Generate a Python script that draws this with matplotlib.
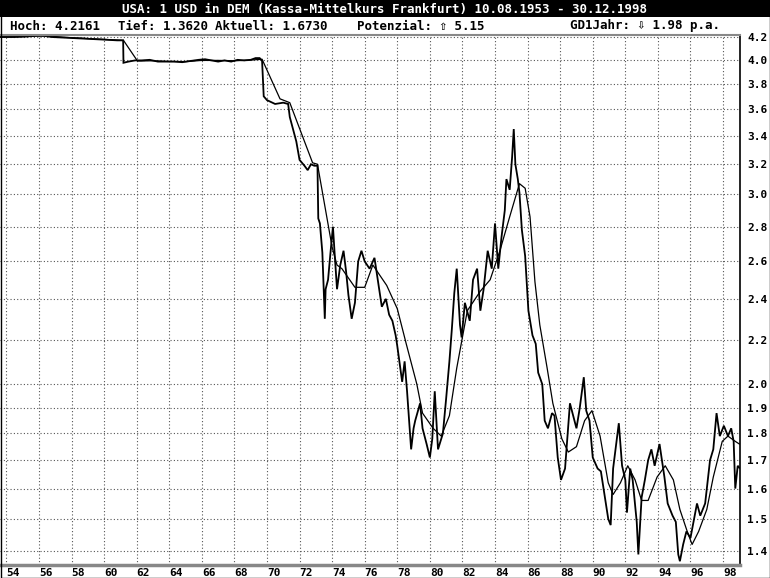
import matplotlib
matplotlib.use("Agg")
import matplotlib.pyplot as plt
from matplotlib.patches import Rectangle
from matplotlib.ticker import FixedLocator, NullLocator

# USD/DEM daily close (year fraction, DEM per USD)
price_years = [
    1953.61, 1954.5, 1955.3, 1955.8, 1956.3, 1956.8, 1957.5, 1958.2, 1958.8, 1959.5,
    1960.2, 1960.8, 1961.17, 1961.19, 1961.5, 1961.9, 1962.3, 1962.8, 1963.3, 1963.8,
    1964.3, 1964.8, 1965.3, 1965.8, 1966.2, 1966.6, 1967.0, 1967.4, 1967.8, 1968.2,
    1968.6, 1969.0, 1969.3, 1969.55, 1969.7, 1969.8, 1970.0, 1970.5, 1971.0, 1971.3,
    1971.4, 1971.6, 1971.8, 1972.0, 1972.3, 1972.5, 1972.7, 1972.9, 1973.1, 1973.15,
    1973.25, 1973.4, 1973.55, 1973.6, 1973.75, 1973.9, 1974.05, 1974.15, 1974.3, 1974.5,
    1974.7, 1974.85, 1975.0, 1975.2, 1975.4, 1975.6, 1975.8, 1976.0, 1976.3, 1976.6,
    1976.8, 1977.05, 1977.3, 1977.5, 1977.7, 1977.9, 1978.0, 1978.3, 1978.45, 1978.6,
    1978.85, 1979.0, 1979.1, 1979.4, 1979.55, 1979.8, 1980.0, 1980.15, 1980.3, 1980.5,
    1980.8, 1981.0, 1981.2, 1981.35, 1981.5, 1981.65, 1981.85, 1981.95, 1982.15, 1982.45,
    1982.65, 1982.9, 1983.1, 1983.3, 1983.55, 1983.8, 1984.0, 1984.2, 1984.4, 1984.6,
    1984.7, 1984.9, 1985.05, 1985.15, 1985.25, 1985.4, 1985.5, 1985.65, 1985.85, 1986.05,
    1986.3, 1986.5, 1986.65, 1986.9, 1987.05, 1987.25, 1987.5, 1987.65, 1987.85, 1988.05,
    1988.3, 1988.6, 1988.8, 1989.0, 1989.2, 1989.45, 1989.6, 1989.8, 1990.0, 1990.3,
    1990.5, 1990.75, 1990.95, 1991.1, 1991.25, 1991.5, 1991.6, 1991.8, 1992.0, 1992.1,
    1992.3, 1992.45, 1992.7, 1992.8, 1993.0, 1993.2, 1993.4, 1993.6, 1993.8, 1994.1,
    1994.4, 1994.6, 1994.9, 1995.1, 1995.25, 1995.35, 1995.55, 1995.75, 1996.0, 1996.4,
    1996.6, 1996.9, 1997.2, 1997.4, 1997.6, 1997.8, 1998.05, 1998.3, 1998.5, 1998.65,
    1998.75, 1998.9, 1999.0,
]
price_values = [
    4.200, 4.200, 4.205, 4.215, 4.210, 4.200, 4.195, 4.190, 4.185, 4.180,
    4.175, 4.170, 4.170, 3.975, 3.985, 3.995, 3.995, 4.000, 3.985, 3.985,
    3.985, 3.980, 3.990, 4.000, 4.005, 3.995, 3.985, 3.995, 3.985, 4.000,
    3.995, 4.000, 4.015, 4.015, 3.990, 3.700, 3.670, 3.640, 3.650, 3.640,
    3.540, 3.450, 3.360, 3.230, 3.190, 3.160, 3.200, 3.190, 3.190, 2.850,
    2.820, 2.650, 2.300, 2.450, 2.500, 2.650, 2.800, 2.650, 2.450, 2.580,
    2.660, 2.550, 2.420, 2.300, 2.380, 2.600, 2.660, 2.600, 2.560, 2.620,
    2.500, 2.360, 2.400, 2.320, 2.290, 2.220, 2.170, 2.010, 2.100, 1.970,
    1.740, 1.820, 1.850, 1.920, 1.820, 1.760, 1.710, 1.780, 1.970, 1.740,
    1.800, 1.940, 2.100, 2.250, 2.430, 2.560, 2.270, 2.210, 2.380, 2.290,
    2.500, 2.560, 2.340, 2.450, 2.660, 2.560, 2.820, 2.560, 2.740, 2.900,
    3.100, 3.030, 3.250, 3.450, 3.200, 3.100, 3.010, 2.780, 2.630, 2.340,
    2.220, 2.180, 2.050, 2.000, 1.850, 1.820, 1.880, 1.870, 1.710, 1.630,
    1.670, 1.920, 1.870, 1.820, 1.900, 2.030, 1.890, 1.850, 1.710, 1.670,
    1.660, 1.570, 1.500, 1.480, 1.670, 1.790, 1.840, 1.680, 1.630, 1.520,
    1.670, 1.630, 1.490, 1.390, 1.570, 1.630, 1.700, 1.740, 1.680, 1.760,
    1.640, 1.550, 1.510, 1.490, 1.390, 1.370, 1.420, 1.460, 1.440, 1.550,
    1.510, 1.550, 1.700, 1.740, 1.880, 1.790, 1.830, 1.790, 1.820, 1.770,
    1.600, 1.680, 1.673,
]

# one-year moving average (GD1Jahr)
ma_years = [
    1953.61, 1955.5, 1956.5, 1957.5, 1958.5, 1959.5, 1960.5, 1961.19, 1962.05, 1963.0,
    1964.0, 1965.0, 1966.0, 1967.0, 1968.0, 1969.0, 1969.7, 1970.8, 1971.4, 1972.8,
    1973.1, 1974.0, 1974.3, 1974.6, 1975.4, 1976.0, 1976.5, 1977.35, 1978.0, 1978.55,
    1979.2, 1979.55, 1980.2, 1980.7, 1981.2, 1981.65, 1982.3, 1983.1, 1983.7, 1984.3,
    1984.9, 1985.5, 1985.85, 1986.15, 1986.45, 1986.75, 1987.2, 1987.55, 1988.1, 1988.5,
    1989.0, 1989.5, 1989.95, 1990.45, 1990.95, 1991.25, 1991.7, 1992.15, 1992.6, 1993.0,
    1993.4, 1993.95, 1994.45, 1994.95, 1995.35, 1995.8, 1996.1, 1996.5, 1997.0, 1997.4,
    1997.95, 1998.3, 1998.75, 1999.0,
]
ma_values = [
    4.200, 4.205, 4.210, 4.198, 4.190, 4.182, 4.175, 4.170, 3.990, 3.992,
    3.986, 3.985, 3.995, 3.995, 3.992, 3.998, 4.005, 3.680, 3.650, 3.210,
    3.200, 2.680, 2.580, 2.560, 2.460, 2.460, 2.580, 2.470, 2.350, 2.180,
    2.000, 1.880, 1.820, 1.790, 1.870, 2.070, 2.340, 2.440, 2.500, 2.660,
    2.860, 3.070, 3.040, 2.860, 2.490, 2.270, 2.070, 1.920, 1.780, 1.730,
    1.750, 1.850, 1.890, 1.790, 1.620, 1.580, 1.620, 1.680, 1.630, 1.560,
    1.560, 1.640, 1.680, 1.630, 1.530, 1.460, 1.420, 1.460, 1.530, 1.640,
    1.770, 1.790, 1.770, 1.760,
]

y_ticks = [1.4, 1.5, 1.6, 1.7, 1.8, 1.9, 2.0, 2.2, 2.4, 2.6, 2.8, 3.0, 3.2, 3.4, 3.6, 3.8, 4.0, 4.2]
x_ticks = list(range(1954, 1999, 2))
x_labels = [f"{y % 100:02d}" for y in x_ticks]

title = "USA: 1 USD in DEM (Kassa-Mittelkurs Frankfurt) 10.08.1953 - 30.12.1998"
stats = [
    (10, "Hoch: 4.2161"),
    (118, "Tief: 1.3620"),
    (215, "Aktuell: 1.6730"),
    (357, "Potenzial: \u21e7 5.15"),
    (570, "GD1Jahr: \u21e9 1.98 p.a."),
]

W, H = 770, 578
MONO = ["DejaVu Sans Mono", "DejaVu Sans"]

fig = plt.figure(figsize=(W / 100, H / 100), dpi=100)
fig.patch.set_facecolor("white")

ax = fig.add_axes([0, 13 / H, 740 / W, (565 - 35) / H])
ax.plot(price_years, price_values, color="black", lw=1.3, solid_joinstyle="miter")
ax.plot(ma_years, ma_values, color="black", lw=0.9)

ax.set_yscale("log")
ax.set_ylim(1.359, 4.218)
ax.set_xlim(1953.61, 1999.04)
ax.yaxis.set_major_locator(FixedLocator(y_ticks))
ax.yaxis.set_minor_locator(NullLocator())
ax.set_yticklabels([f"{v:.1f}" for v in y_ticks])
ax.yaxis.tick_right()
ax.set_xticks(x_ticks)
ax.set_xticklabels(x_labels)
for lab in ax.get_xticklabels():
    lab.set_horizontalalignment("left")
ax.tick_params(axis="both", length=0, labelsize=8)
ax.tick_params(axis="x", pad=2)
ax.tick_params(axis="y", pad=5)
for lab in ax.get_xticklabels() + ax.get_yticklabels():
    lab.set_family(MONO)
    lab.set_fontweight("bold")

ax.grid(True, color="#555555", linestyle=(0, (1, 2)), lw=0.8)
ax.set_axisbelow(True)

ax.spines["left"].set_visible(False)
ax.spines["right"].set_color("black")
ax.spines["right"].set_linewidth(1.2)
ax.spines["top"].set_color("#888888")
ax.spines["top"].set_linewidth(1.5)
ax.spines["bottom"].set_color("#888888")
ax.spines["bottom"].set_linewidth(2.5)

# title bar
fig.patches.append(Rectangle((0, 1 - 17 / H), 1, 17 / H, transform=fig.transFigure,
                             facecolor="black", edgecolor="none", zorder=0))
fig.text(0.5, 1 - 9 / H, title, color="white", ha="center", va="center",
         fontsize=9, family=MONO, fontweight="bold")
for px, s in stats:
    fig.text(px / W, 1 - 26 / H, s, color="black", ha="left", va="center",
             fontsize=9, family=MONO, fontweight="bold")

# outer frame
fig.patches.append(Rectangle((0.5 / W, 0.5 / H), 1 - 1 / W, 1 - 1 / H, transform=fig.transFigure,
                             facecolor="none", edgecolor="black", lw=1.0, zorder=5))

fig.savefig("out.png", dpi=100)
